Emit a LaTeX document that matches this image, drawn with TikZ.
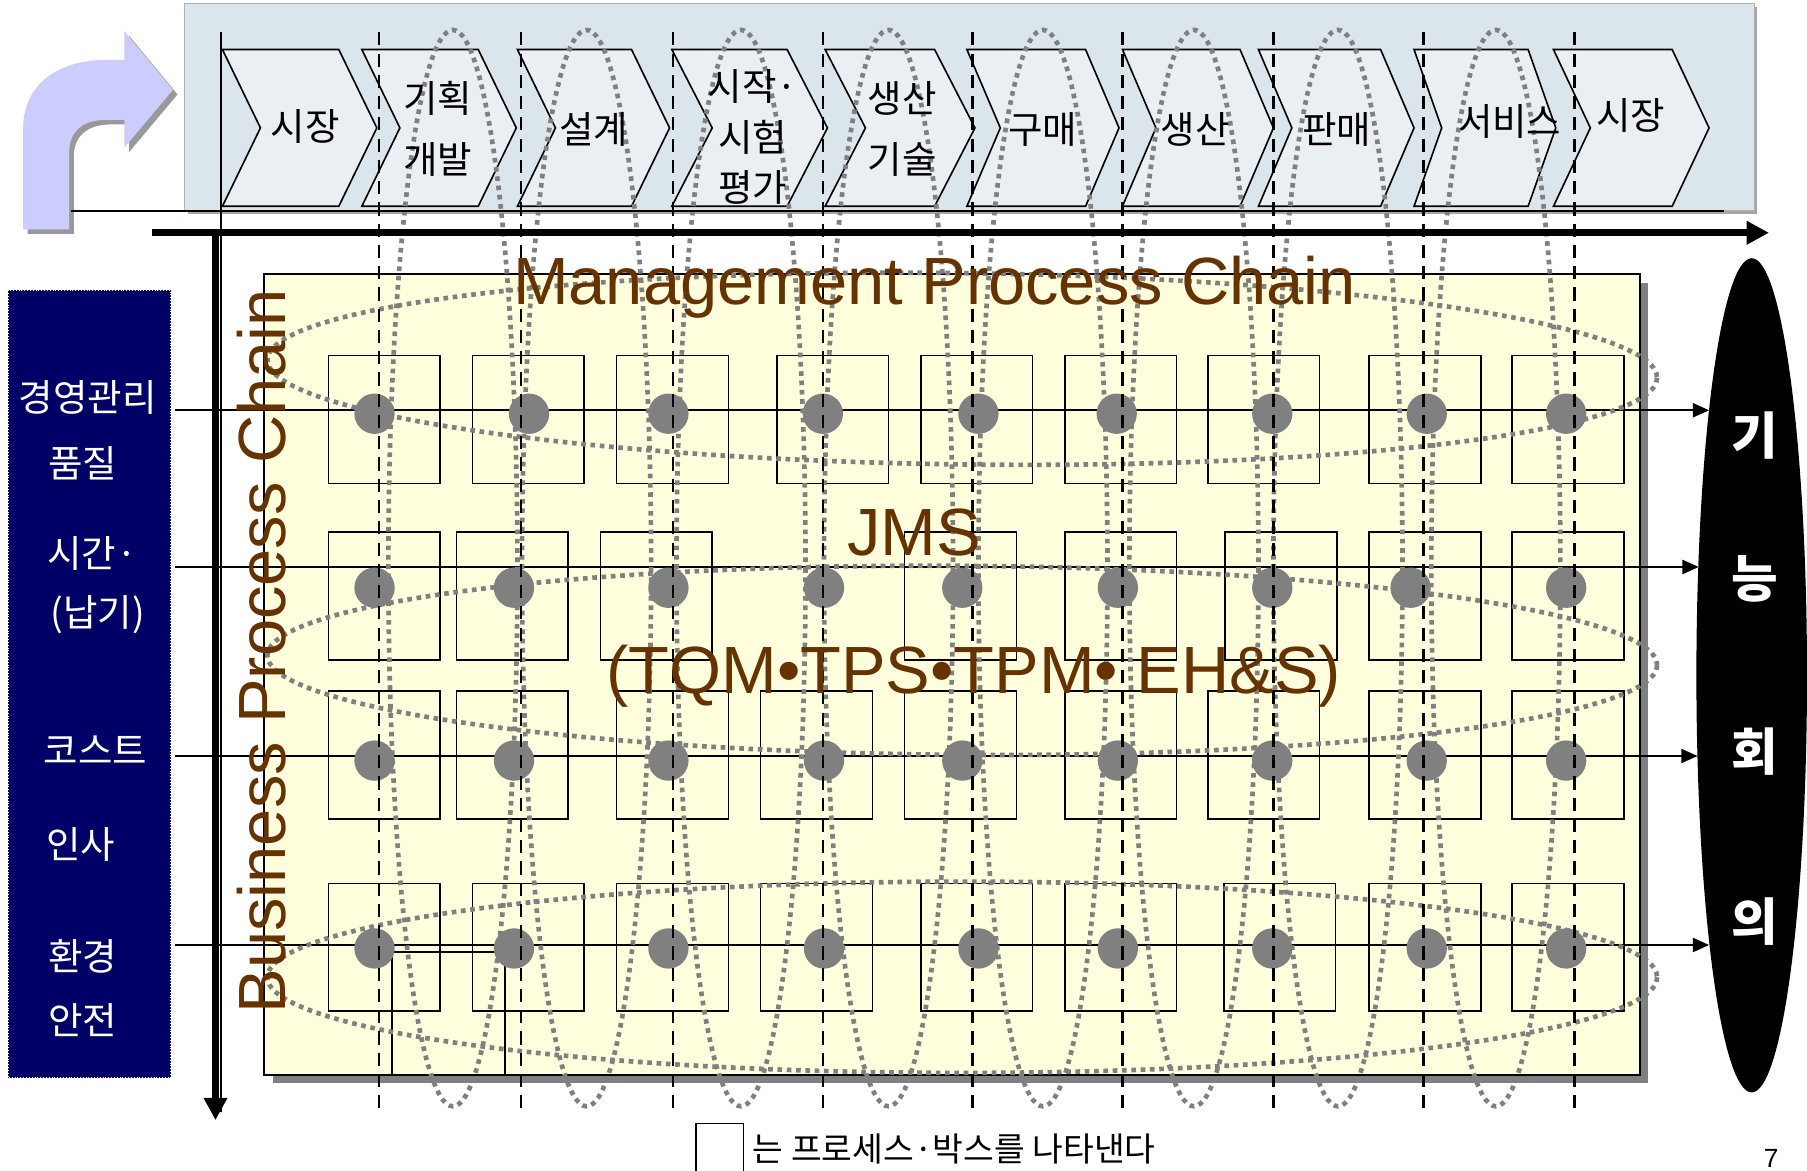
\documentclass[tikz,border=0pt]{standalone}
\usepackage{fontspec}
\setmainfont{Liberation Sans}
\newfontfamily\krfont{Noto Sans CJK KR}
\usepackage{tikz}
\definecolor{panelblue}{RGB}{219,230,236}
\definecolor{chevfill}{RGB}{233,239,243}
\definecolor{padyellow}{RGB}{255,255,222}
\definecolor{sidenavy}{RGB}{0,0,102}
\definecolor{dotgray}{RGB}{128,128,128}
\definecolor{chainbrown}{RGB}{102,51,0}
\definecolor{turnblue}{RGB}{204,204,255}
\usetikzlibrary{arrows.meta, positioning, shapes.geometric, calc}
\tikzset{
    chevshape/.style={draw, line width=0.8pt, fill=chevfill},
    stagetext/.style={align=center, font=\krfont\fontsize{18.5}{30}\selectfont},
    sidetext/.style={text=white, font=\krfont\fontsize{18.5}{20}\selectfont},
    procbox/.style={draw, line width=0.8pt, minimum width=1.94cm, minimum height=2.22cm},
    procdot/.style={circle, fill=dotgray, minimum size=0.7cm},
    chainring/.style={draw=dotgray, line width=2.3pt, dash pattern=on 2.3pt off 2.3pt},
    stageline/.style={line width=1.3pt, dash pattern=on 6.5pt off 4pt},
    rowarrow/.style={-{Triangle[length=8pt,width=7pt]}, line width=0.8pt},
    axisarrow/.style={-{Triangle[length=11pt,width=11pt]}, line width=3.6pt},
    chaintext/.style={text=chainbrown, font=\fontsize{33}{38}\selectfont},
    meettext/.style={text=white, font=\krfont\bfseries\fontsize{25}{28}\selectfont}
}

\begin{document}
\begin{tikzpicture}[x=0.02cm, y=-0.02cm, every node/.style={inner sep=0pt}]
  \useasboundingbox (0,0) rectangle (1568,1016);

  % value chain panel
  \fill[gray!70] (163,6) rectangle (1525,186);
  \draw[gray!60, fill=panelblue] (160,3) rectangle (1522,183);
  \fill[gray!80, shift={(4,4)}] (20,199) -- (20,112) .. controls (20,72) and (52,52) .. (92,52)
    -- (108,52) -- (108,27) -- (150,78) -- (108,128) -- (108,104) -- (92,104)
    .. controls (72,104) and (60,114) .. (60,132) -- (60,199) -- cycle;
  \fill[turnblue] (20,199) -- (20,112) .. controls (20,72) and (52,52) .. (92,52)
    -- (108,52) -- (108,27) -- (150,78) -- (108,128) -- (108,104) -- (92,104)
    .. controls (72,104) and (60,114) .. (60,132) -- (60,199) -- cycle;
  \foreach \l/\r/\t in {193/294/327, 314/415/448, 449/548/581, 583/683/718, 716/811/846,
                        839/942/971, 974/1076/1105, 1092/1198/1227, 1227/1326/1350, 1348/1451/1483}
    \draw[chevshape] (\l,43) -- (\r,43) -- (\t,111) -- (\r,179) -- (\l,179) -- ({\l+\t-\r},111) -- cycle;

  % process area
  \fill[dotgray] (237,246) rectangle (1430,940);
  \draw[line width=0.8pt, fill=padyellow] (229,238) rectangle (1423,933);
  \foreach \x [count=\i] in {285,410,535,674,799,924,1048,1188,1312}
    \node[procbox] (pa\i) at ({\x+48.5},364) {};
  \foreach \x [count=\i] in {285,396,521,785,924,1063,1188,1312}
    \node[procbox] (pb\i) at ({\x+48.5},517) {};
  \foreach \x [count=\i] in {285,396,535,660,785,924,1048,1188,1312}
    \node[procbox] (pc\i) at ({\x+48.5},655) {};
  \foreach \x [count=\i] in {285,410,535,660,799,924,1062,1188,1312}
    \node[procbox] (pd\i) at ({\x+48.5},822) {};
  \draw[line width=0.8pt] (340,933) -- (340,826) -- (438,826) -- (438,933);

  % rows into the meeting
  \node[ellipse, fill=black, minimum width=1.92cm, minimum height=14.48cm] (kineung) at (1520,586) {};
  \foreach \y/\e [count=\i] in {356/1483, 492/1474, 656/1473, 820/1483} {
    \coordinate (row\i-in) at (152,\y);
    \coordinate (row\i-out) at (\e,\y);
    \draw[rowarrow] (row\i-in) -- (row\i-out);
  }

  % chains
  \draw[chainring, rotate around={-0.75:(835,320)}] (835,320) ellipse [x radius=603, y radius=83];
  \draw[chainring, rotate around={-0.4:(835,573)}] (835,573) ellipse [x radius=603, y radius=82];
  \draw[chainring] (835,848) ellipse [x radius=603, y radius=83];
  \foreach \x in {393,509,643,771,905,1036,1161,1298}
    \draw[chainring] (\x,493) ellipse [x radius=56, y radius=467];

  \foreach \x [count=\i] in {325,459,580,714,849,969,1104,1238,1359}
    \node[procdot] (da\i) at (\x,359) {};
  \foreach \x [count=\i] in {325,446,580,715,835,970,1104,1224,1359}
    \node[procdot] (db\i) at (\x,510) {};
  \foreach \x [count=\i] in {325,446,580,715,835,970,1104,1238,1359}
    \node[procdot] (dc\i) at (\x,660) {};
  \foreach \x [count=\i] in {325,446,580,715,849,970,1104,1238,1359}
    \node[procdot] (dd\i) at (\x,823) {};

  \foreach \x in {329,452,584,714,844,974,1105,1235,1366}
    \draw[stageline] (\x,28) -- (\x,962);

  % stage labels
  \node[stagetext] (st1) at (265,110) {시장};
  \node[stagetext] (st2) at (380,112) {기획\\개발};
  \node[stagetext] (st3) at (515,112) {설계};
  \node[stagetext, font=\krfont\fontsize{18.5}{25}\selectfont] (st4) at (653,119) {시작·\\시험\\평가};
  \node[stagetext] (st5) at (783,112) {생산\\기술};
  \node[stagetext] (st6) at (905,112) {구매};
  \node[stagetext] (st7) at (1037,112) {생산};
  \node[stagetext] (st8) at (1160,112) {판매};
  \node[stagetext] (st9) at (1310,105) {서비스};
  \node[stagetext] (st10) at (1415,100) {시장};

  % axes
  \draw[line width=1.2pt] (62,183) -- (1496,183);
  \draw[line width=0.8pt] (192,28) -- (192,965);
  \coordinate (haxis-s) at (132,202);
  \coordinate (haxis-e) at (1535,202);
  \coordinate (vaxis-s) at (187,200);
  \coordinate (vaxis-e) at (187,972);
  \draw[axisarrow] (haxis-s) -- (haxis-e);
  \draw[axisarrow] (vaxis-s) -- (vaxis-e);

  % functions
  \draw[white, densely dotted, fill=sidenavy] (7,252) rectangle (148,935);
  \node[sidetext] (fn1) at (76,345) {경영관리};
  \node[sidetext] (fn2) at (72,402) {품질};
  \node[sidetext] (fn3) at (80,480) {시간·};
  \node[sidetext] (fn4) at (85,533) {(납기)};
  \node[sidetext] (fn5) at (83,651) {코스트};
  \node[sidetext] (fn6) at (70,733) {인사};
  \node[sidetext] (fn7) at (72,830) {환경};
  \node[sidetext] (fn8) at (72,885) {안전};

  \node[meettext] (mt1) at (1523,378) {기};
  \node[meettext] (mt2) at (1523,502) {능};
  \node[meettext] (mt3) at (1523,652) {회};
  \node[meettext] (mt4) at (1523,800) {의};

  \node[chaintext, anchor=base] (mpc) at (811,264) {Management Process Chain};
  \node[chaintext, anchor=base] (jms) at (793,482) {JMS};
  \node[chaintext, anchor=base] (jmsparts) at (845,602) {(TQM•TPS•TPM• EH\&S)};
  \node[chaintext, rotate=90] (bpc) at (227,565) {Business Process Chain};

  % legend
  \node[draw, line width=0.8pt, minimum width=0.82cm, minimum height=1cm] (legbox) at (624.5,1000) {};
  \node[anchor=west, font=\krfont\fontsize{16.5}{18}\selectfont] (legtext) at (653,997) {는 프로세스·박스를 나타낸다};
  \node[anchor=south, font=\fontsize{13}{15}\selectfont] (pageno) at (1537,1013) {7};
\end{tikzpicture}
\end{document}
